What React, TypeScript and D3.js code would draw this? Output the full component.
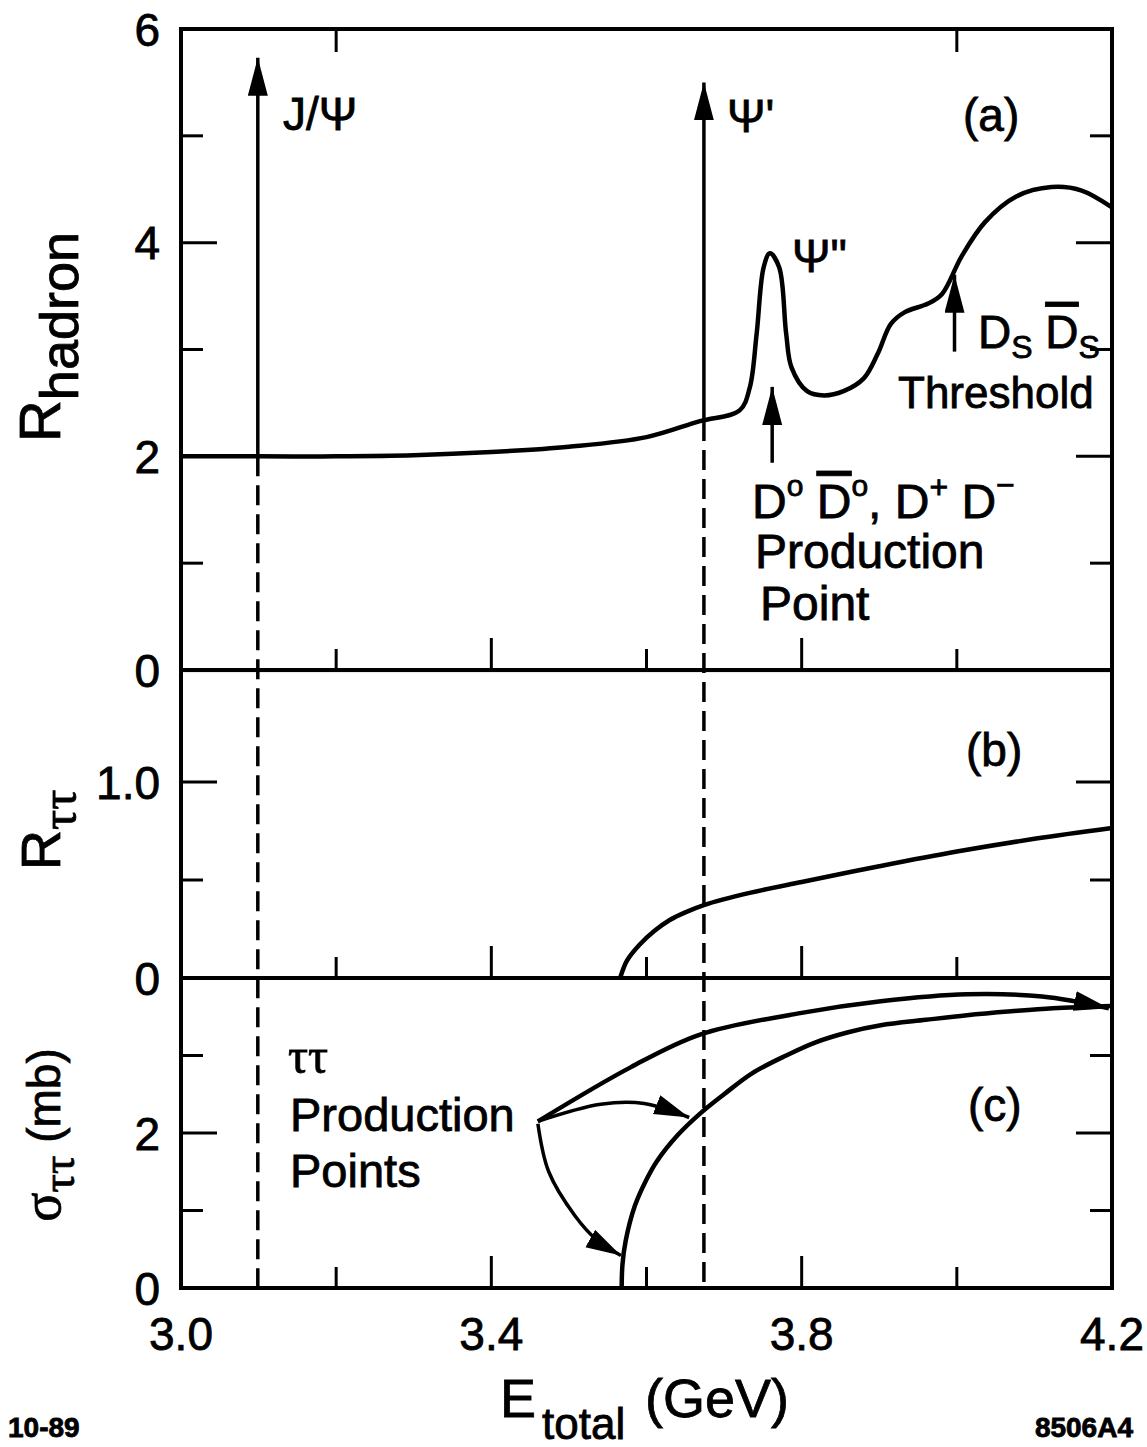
import { scaleLinear, line, curveCatmullRom } from "d3";

const W = 1147;
const H = 1447;
const FONT = "'Liberation Sans', Arial, Helvetica, sans-serif";
const SERIF = "'Liberation Serif', 'DejaVu Serif', serif";

// panel (a): R hadron vs E total
const hadronE = [3.0, 3.1, 3.2, 3.3, 3.4, 3.5, 3.6, 3.669, 3.72, 3.733, 3.742, 3.751, 3.759, 3.771, 3.78, 3.787, 3.807, 3.829, 3.854, 3.88, 3.898, 3.915, 3.933, 3.963, 3.981, 4.006, 4.036, 4.076, 4.122, 4.16, 4.2];
const hadronR = [2.0, 2.0, 2.0, 2.01, 2.04, 2.09, 2.18, 2.33, 2.43, 2.64, 3.15, 3.77, 3.9, 3.77, 3.15, 2.83, 2.61, 2.57, 2.61, 2.73, 2.96, 3.24, 3.35, 3.43, 3.52, 3.87, 4.19, 4.43, 4.52, 4.49, 4.33];

// panel (b): R tau tau
const tauE = [3.566, 3.575, 3.591, 3.61, 3.63, 3.65, 3.674, 3.733, 3.8, 3.9, 4.0, 4.1, 4.2];
const tauR = [0, 0.09, 0.17, 0.24, 0.296, 0.335, 0.372, 0.434, 0.49, 0.57, 0.645, 0.71, 0.765];

// panel (c): sigma tau tau (mb)
const sigmaE = [3.568, 3.569, 3.573, 3.585, 3.6, 3.613, 3.64, 3.669, 3.7, 3.736, 3.78, 3.818, 3.86, 3.902, 3.96, 4.013, 4.07, 4.124, 4.2];
const sigmaV = [0, 0.3, 0.6, 1.06, 1.4, 1.63, 1.97, 2.25, 2.5, 2.77, 3.0, 3.17, 3.3, 3.39, 3.46, 3.52, 3.57, 3.61, 3.64];

// axes
const xMajor = [3.0, 3.4, 3.8, 4.2];
const xMinor = [3.2, 3.6, 4.0];
const xTopTicks = [3.2, 4.0];
const xLabels = ["3.0", "3.4", "3.8", "4.2"];

const aMajor = [2, 4];
const aMinor = [1, 3, 5];
const aLabelVals = [6, 4, 2, 0];
const aLabels = ["6", "4", "2", "0"];

const bMajor = [1.0];
const bMinor = [0.5];
const bLabelVals = [1.0, 0];
const bLabels = ["1.0", "0"];

const cMajor = [2];
const cMinor = [1, 3];
const cLabelVals = [2, 0];
const cLabels = ["2", "0"];

// resonances (arrows in panel a, dashed below)
const resMass = [3.099, 3.674];
const resBase = [2.0, 2.33];
const resTip = [5.73, 5.5];

// threshold arrows in panel a
const thrE = [3.762, 3.997];
const thrTail = [1.94, 2.98];
const thrTip = [2.65, 3.7];

// "tau tau production points" arrows in panel c
const arrowUpper = [[3.46, 2.15], [3.58, 2.85], [3.669, 3.27], [3.8, 3.55], [3.902, 3.7], [4.013, 3.79], [4.11, 3.76], [4.196, 3.61]];
const arrowMiddle = [[3.46, 2.15], [3.541, 2.37], [3.597, 2.38], [3.655, 2.2]];
const arrowLower = [[3.46, 2.12], [3.474, 1.5], [3.508, 0.93], [3.536, 0.62], [3.567, 0.42]];

const x = scaleLinear().domain([3.0, 4.2]).range([181, 1112]);
const ya = scaleLinear().domain([0, 6]).range([670, 29]);
const yb = scaleLinear().domain([0, 1]).range([978, 782]);
const yc = scaleLinear().domain([0, 4]).range([1288, 978]);

const zip = (a: number[], b: number[]) => a.map((v, i) => [v, b[i]] as [number, number]);

export default function App() {
  const curve = curveCatmullRom.alpha(0.5);
  const lineA = line<[number, number]>().x((d) => x(d[0])).y((d) => ya(d[1])).curve(curve);
  const lineB = line<[number, number]>().x((d) => x(d[0])).y((d) => yb(d[1])).curve(curve);
  const lineC = line<[number, number]>().x((d) => x(d[0])).y((d) => yc(d[1])).curve(curve);

  const panels = [
    { y: ya, major: aMajor, minor: aMinor, top: 6, labelVals: aLabelVals, labels: aLabels },
    { y: yb, major: bMajor, minor: bMinor, top: 1.571, labelVals: bLabelVals, labels: bLabels },
    { y: yc, major: cMajor, minor: cMinor, top: 4, labelVals: cLabelVals, labels: cLabels },
  ];

  const L = x(3.0);
  const R = x(4.2);
  const txt = { fontFamily: FONT, fill: "#000", stroke: "#000", strokeWidth: 0.8 } as const;

  return (
    <svg width={W} height={H} style={{ position: "absolute", left: 0, top: 0, background: "#fff" }}>
      <defs>
        <marker id="head" markerUnits="userSpaceOnUse" markerWidth={40} markerHeight={22} refX={38} refY={10} orient="auto">
          <path d="M0,0 L38,10 L0,20 Z" fill="#000" />
        </marker>
        <marker id="headS" markerUnits="userSpaceOnUse" markerWidth={38} markerHeight={22} refX={35} refY={10} orient="auto">
          <path d="M0,0 L35,10 L0,20 Z" fill="#000" />
        </marker>
      </defs>

      {/* panel frames and ticks */}
      {panels.map((p, i) => {
        const y0 = p.y(0);
        const yt = p.y(p.top);
        return (
          <g key={i} stroke="#000" fill="none">
            <rect x={L} y={yt} width={R - L} height={y0 - yt} strokeWidth={4} />
            {p.major.map((v) => (
              <g key={"M" + v} strokeWidth={3}>
                <line x1={L} x2={L + 36} y1={p.y(v)} y2={p.y(v)} />
                <line x1={R} x2={R - 36} y1={p.y(v)} y2={p.y(v)} />
              </g>
            ))}
            {p.minor.map((v) => (
              <g key={"m" + v} strokeWidth={3}>
                <line x1={L} x2={L + 22} y1={p.y(v)} y2={p.y(v)} />
                <line x1={R} x2={R - 22} y1={p.y(v)} y2={p.y(v)} />
              </g>
            ))}
            {xMajor.slice(1, -1).map((v) => (
              <line key={"xM" + v} x1={x(v)} x2={x(v)} y1={y0} y2={y0 - 32} strokeWidth={3} />
            ))}
            {xMinor.map((v) => (
              <line key={"xm" + v} x1={x(v)} x2={x(v)} y1={y0} y2={y0 - 21} strokeWidth={3} />
            ))}
            {i === 0 &&
              xTopTicks.map((v) => (
                <line key={"xt" + v} x1={x(v)} x2={x(v)} y1={yt} y2={yt + 23} strokeWidth={3} />
              ))}
          </g>
        );
      })}

      {/* y tick labels */}
      {panels.map((p, i) =>
        p.labelVals.map((v, j) => (
          <text key={i + "-" + j} x={160} y={p.y(v)} dy="0.36em" textAnchor="end" fontSize={46} {...txt}>
            {p.labels[j]}
          </text>
        ))
      )}

      {/* x tick labels */}
      {xMajor.map((v, i) => (
        <text key={v} x={x(v)} y={1350} textAnchor="middle" fontSize={46} {...txt}>
          {xLabels[i]}
        </text>
      ))}

      {/* data curves */}
      <path d={lineA(zip(hadronE, hadronR)) ?? ""} fill="none" stroke="#000" strokeWidth={4.5} />
      <path d={lineB(zip(tauE, tauR)) ?? ""} fill="none" stroke="#000" strokeWidth={4.5} />
      <path d={lineC(zip(sigmaE, sigmaV)) ?? ""} fill="none" stroke="#000" strokeWidth={4.5} />

      {/* resonance arrows and dashed markers */}
      {resMass.map((m, i) => (
        <g key={m} stroke="#000" fill="none">
          <line x1={x(m)} x2={x(m)} y1={ya(resBase[i])} y2={ya(resTip[i])} strokeWidth={3.5} markerEnd="url(#head)" />
          <line x1={x(m)} x2={x(m)} y1={ya(resBase[i])} y2={yc(0)} strokeWidth={3.5} strokeDasharray="20 9" />
        </g>
      ))}

      {/* threshold arrows */}
      {thrE.map((e, i) => (
        <line key={e} x1={x(e)} x2={x(e)} y1={ya(thrTail[i])} y2={ya(thrTip[i])} stroke="#000" strokeWidth={3.5} markerEnd="url(#head)" />
      ))}

      {/* production point arrows */}
      {[arrowUpper, arrowMiddle, arrowLower].map((pts, i) => (
        <path
          key={i}
          d={lineC(pts as [number, number][]) ?? ""}
          fill="none"
          stroke="#000"
          strokeWidth={i === 0 ? 4.5 : 3.5}
          markerEnd="url(#headS)"
        />
      ))}

      {/* panel (a) labels */}
      <text x={283} y={130} fontSize={46} {...txt}>J/Ψ</text>
      <text x={727} y={132} fontSize={46} {...txt}>Ψ'</text>
      <text x={792} y={272} fontSize={46} {...txt}>Ψ"</text>
      <text x={963} y={131} fontSize={46} {...txt}>(a)</text>
      <text x={978} y={348} fontSize={46} {...txt}>
        D<tspan fontSize={32} dy={10}>S</tspan>
        <tspan dy={-10}> </tspan>
        <tspan textDecoration="overline">D</tspan>
        <tspan fontSize={32} dy={10}>S</tspan>
      </text>
      <text x={898} y={408} fontSize={44} {...txt}>Threshold</text>
      <text x={752} y={518} fontSize={48} {...txt}>
        D<tspan fontSize={30} dy={-22}>o</tspan>
        <tspan dy={22}> </tspan>
        <tspan textDecoration="overline">D</tspan>
        <tspan fontSize={30} dy={-22}>o</tspan>
        <tspan dy={22}>,  D</tspan>
        <tspan fontSize={32} dy={-20}>+</tspan>
        <tspan dy={20}> D</tspan>
        <tspan fontSize={32} dy={-22}>−</tspan>
      </text>
      <text x={755} y={568} fontSize={48} {...txt}>Production</text>
      <text x={760} y={620} fontSize={48} {...txt}>Point</text>

      {/* panel (b) and (c) labels */}
      <text x={966} y={766} fontSize={46} {...txt}>(b)</text>
      <text x={968} y={1121} fontSize={46} {...txt}>(c)</text>
      <text x={288} y={1073} fontSize={50} {...txt} fontFamily={SERIF}>ττ</text>
      <text x={290} y={1131} fontSize={47} {...txt}>Production</text>
      <text x={290} y={1187} fontSize={47} {...txt}>Points</text>

      {/* y axis titles */}
      <text transform="translate(60,337) rotate(-90)" textAnchor="middle" fontSize={58} {...txt}>
        R<tspan fontSize={54} dy={18}>hadron</tspan>
      </text>
      <text transform="translate(60,830) rotate(-90)" textAnchor="middle" fontSize={56} {...txt}>
        R<tspan fontSize={50} dy={16} fontFamily={SERIF}>ττ</tspan>
      </text>
      <text transform="translate(60,1135) rotate(-90)" textAnchor="middle" fontSize={54} {...txt}>
        <tspan fontFamily={SERIF}>σ</tspan>
        <tspan fontSize={46} dy={14} fontFamily={SERIF}>ττ</tspan>
        <tspan dy={-14} fontSize={46}>  (mb)</tspan>
      </text>

      {/* x axis title */}
      <text x={500} y={1417} fontSize={54} {...txt}>
        E<tspan fontSize={44} dy={22} dx={6}>total</tspan>
        <tspan x={645} dy={-22}>(GeV)</tspan>
      </text>

      <text x={8} y={1437} fontSize={28} fontWeight="bold" {...txt}>10-89</text>
      <text x={1133} y={1437} fontSize={28} fontWeight="bold" textAnchor="end" {...txt}>8506A4</text>
    </svg>
  );
}
